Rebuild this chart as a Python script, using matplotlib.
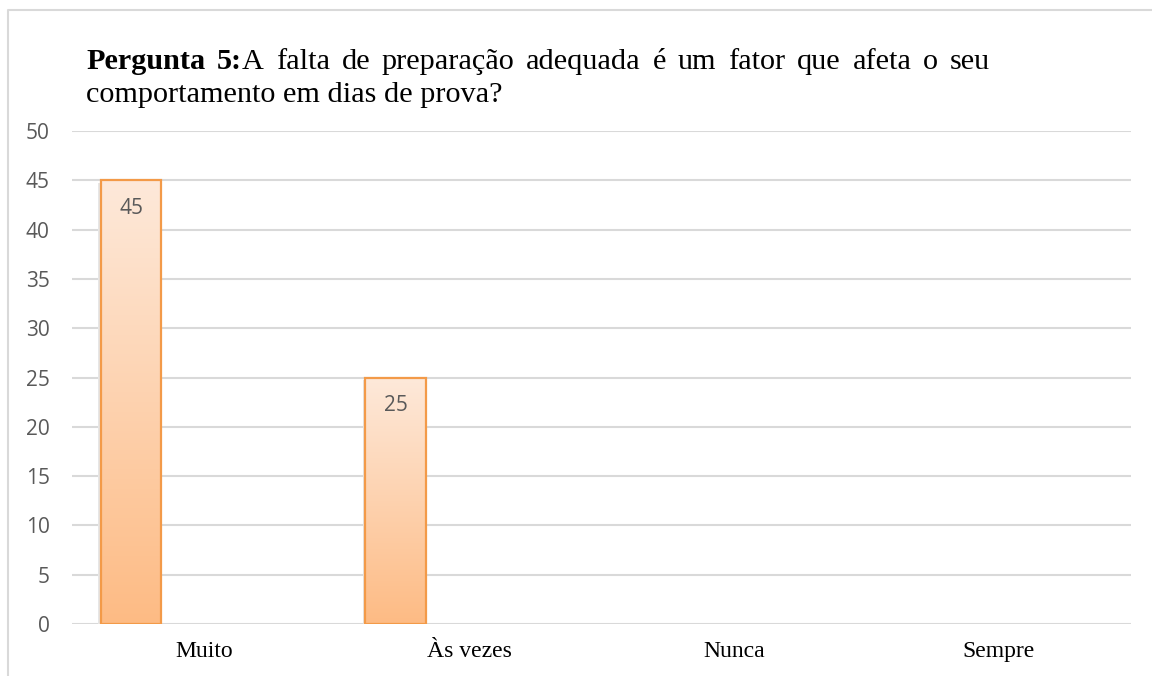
import numpy as np
import matplotlib.pyplot as plt
from matplotlib.colors import LinearSegmentedColormap
from matplotlib.lines import Line2D

# dados
categorias = ['Muito', 'Às vezes', 'Nunca', 'Sempre']
valores = [45, 25, 0, 0]
yticks = [0, 5, 10, 15, 20, 25, 30, 35, 40, 45, 50]

linha1 = [[('Pergunta', 'bold')], [('5:', 'bold'), ('A', 'normal')],
          [('falta', 'normal')], [('de', 'normal')], [('preparação', 'normal')],
          [('adequada', 'normal')], [('é', 'normal')], [('um', 'normal')],
          [('fator', 'normal')], [('que', 'normal')], [('afeta', 'normal')],
          [('o', 'normal')], [('seu', 'normal')]]
linha2 = 'comportamento em dias de prova?'

W, H = 1152, 676
fig = plt.figure(figsize=(W / 100, H / 100), dpi=100)
ax = fig.add_axes([72 / W, 1 - 624 / H, (1131 - 72) / W, (624 - 131) / H])

serif = 'Liberation Serif'
sans = 'Open Sans'
cinza = '#595959'
grade = '#d9d9d9'

# grade horizontal
for v in yticks:
    ax.axhline(v, color=grade, lw=1.5, zorder=0)

# barras com degradê
desloc = -0.277
largura = 0.23
x = np.arange(len(categorias)) + desloc
cmap = LinearSegmentedColormap.from_list('lar', ['#fdbb84', '#fee9da'])
grad = np.linspace(0, 1, 256).reshape(-1, 1)
bordas = ['#f39a48' if v > 0 else 'none' for v in valores]
barras = ax.bar(x, valores, width=largura, color='none', edgecolor=bordas,
                lw=1.6, zorder=3)
for b, v in zip(barras, valores):
    if v <= 0:
        continue
    x0 = b.get_x()
    img = ax.imshow(grad, cmap=cmap, origin='lower', aspect='auto',
                    extent=[x0, x0 + b.get_width(), 0, v], zorder=2)
    img.set_clip_path(b)
    # sombra leve
    ax.bar(x0 + b.get_width() / 2 - 0.004, v, width=largura + 0.012,
           color='#e6e6e6', zorder=1, bottom=-0.3)
    ax.annotate(str(v), (x0 + b.get_width() / 2, v), xytext=(0, -20),
                textcoords='offset points', ha='center', va='center',
                fontsize=15, color=cinza, family=sans, zorder=4)

ax.set_xlim(-0.5, 3.5)
ax.set_ylim(0, 50)
ax.set_yticks(yticks)
ax.set_xticks(np.arange(len(categorias)))
ax.set_xticklabels(categorias, family=serif, fontsize=17, color='black')
for t in ax.get_yticklabels():
    t.set_family(sans)
    t.set_fontsize(15)
    t.set_color(cinza)
ax.tick_params(length=0)
ax.tick_params(axis='x', pad=12)
ax.tick_params(axis='y', pad=16)
for s in ax.spines.values():
    s.set_visible(False)

# moldura externa (cortada à direita e embaixo)
fig.add_artist(Line2D([8 / W, 8 / W, 1], [0, 1 - 10 / H, 1 - 10 / H],
                      transform=fig.transFigure, color=grade, lw=1.5))

# título justificado
fs = 21.8
r = fig.canvas.get_renderer()
x_ini, x_fim = 86, 990
y1 = 1 - 69 / H
y2 = 1 - 102 / H

def largura_px(txt, peso):
    t = fig.text(0, 0, txt, family=serif, fontsize=fs, weight=peso)
    w = t.get_window_extent(r).width
    t.remove()
    return w

larguras = [sum(largura_px(p, w) for p, w in palavra) for palavra in linha1]
espaco = (x_fim - x_ini - sum(larguras)) / (len(linha1) - 1)
xp = x_ini
for palavra, lw_ in zip(linha1, larguras):
    xx = xp
    for p, w in palavra:
        fig.text(xx / W, y1, p, family=serif, fontsize=fs, weight=w,
                 ha='left', va='baseline')
        xx += largura_px(p, w)
    xp += lw_ + espaco
fig.text(x_ini / W, y2, linha2, family=serif, fontsize=fs, ha='left',
         va='baseline')

fig.savefig('out.png', dpi=100, facecolor='white')
